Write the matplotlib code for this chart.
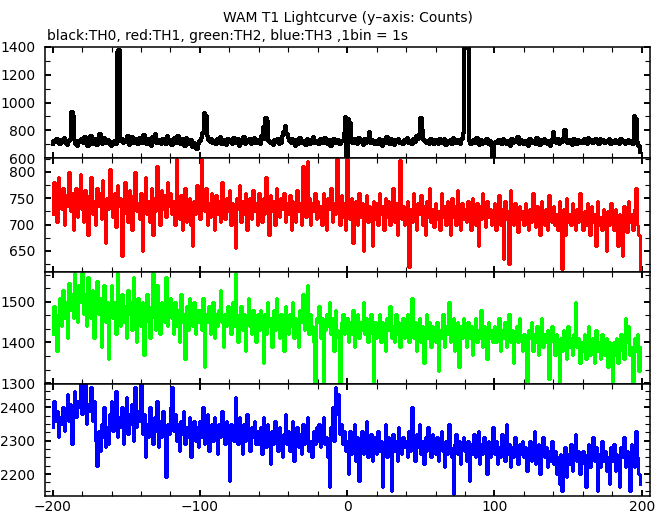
import numpy as np
import matplotlib

matplotlib.use("Agg")
import matplotlib.pyplot as plt
from matplotlib.ticker import MultipleLocator, AutoMinorLocator

# ---- data: counts per 1 s bin, t = -200 .. 199 ----
time_s = np.arange(-200, 200)

th0 = [
    700, 725, 712, 735, 705, 698, 730, 718, 742, 710, 695, 722, 740, 930, 905, 728, 700, 690, 720, 712,
    735, 705, 748, 718, 690, 725, 760, 702, 715, 738, 695, 728, 770, 710, 698, 745, 720, 705, 732, 700,
    690, 718, 725, 700, 1365, 1375, 720, 740, 705, 730, 712, 760, 695, 722, 748, 706, 735, 715, 700, 742,
    718, 705, 765, 728, 700, 735, 712, 690, 748, 722, 775, 705, 730, 715, 698, 740, 726, 702, 755, 712,
    730, 695, 718, 742, 705, 760, 720, 700, 735, 712, 690, 745, 718, 702, 728, 680, 710, 695, 665, 700,
    720, 745, 780, 925, 900, 760, 730, 712, 740, 705, 725, 698, 735, 715, 748, 702, 730, 720, 695, 740,
    712, 728, 700, 745, 718, 705, 735, 690, 722, 710, 748, 700, 725, 715, 738, 698, 720, 745, 705, 730,
    715, 700, 760, 820, 740, 890, 865, 725, 705, 712, 695, 730, 718, 740, 700, 710, 760, 790, 830, 775,
    745, 720, 705, 735, 712, 690, 728, 700, 742, 718, 705, 725, 695, 738, 712, 700, 730, 748, 705, 720,
    712, 698, 735, 720, 705, 745, 715, 700, 728, 690, 722, 740, 705, 712, 730, 698, 720, 720, 780, 895,
    605, 880, 855, 720, 705, 735, 712, 700, 745, 718, 728, 695, 740, 710, 722, 785, 705, 730, 715, 700,
    725, 700, 738, 712, 690, 730, 705, 748, 715, 700, 735, 720, 695, 728, 712, 740, 705, 718, 700, 730,
    712, 745, 705, 722, 700, 735, 718, 760, 740, 770, 885, 800, 730, 712, 705, 725, 698, 740, 715, 702,
    728, 712, 700, 735, 718, 705, 740, 695, 722, 710, 730, 700, 745, 715, 705, 728, 712, 700, 735, 780,
    1395, 1390, 1395, 725, 700, 718, 730, 705, 742, 712, 695, 728, 700, 720, 710, 735, 702, 725, 690, 600,
    705, 718, 705, 730, 712, 698, 740, 715, 700, 725, 710, 690, 735, 705, 722, 712, 748, 700, 728, 715,
    700, 725, 712, 690, 738, 705, 720, 715, 700, 742, 712, 695, 728, 705, 735, 718, 700, 722, 690, 730,
    790, 712, 705, 735, 700, 725, 718, 745, 800, 720, 705, 730, 712, 695, 740, 715, 700, 728, 710, 722,
    705, 735, 712, 700, 745, 718, 730, 705, 722, 740, 712, 700, 735, 715, 728, 705, 720, 712, 738, 700,
    725, 710, 730, 705, 718, 700, 735, 712, 722, 698, 715, 730, 705, 720, 700, 900, 880, 715, 690, 640,
]

th1 = [
    720, 780, 760, 705, 790, 745, 730, 770, 700, 755, 735, 800, 725, 760, 690, 745, 770, 715, 750, 795,
    730, 705, 765, 740, 680, 755, 790, 720, 745, 700, 770, 735, 760, 710, 785, 725, 665, 750, 730, 805,
    740, 715, 760, 695, 775, 735, 750, 640, 720, 780, 745, 705, 765, 730, 690, 755, 800, 725, 740, 710,
    760, 650, 735, 790, 720, 745, 705, 770, 680, 750, 725, 810, 740, 700, 765, 730, 755, 715, 780, 735,
    760, 720, 745, 700, 825, 735, 710, 755, 690, 740, 770, 705, 730, 750, 700, 660, 745, 720, 775, 735,
    710, 825, 745, 725, 770, 700, 740, 715, 760, 730, 690, 755, 720, 745, 705, 780, 735, 710, 750, 725,
    765, 700, 740, 720, 655, 750, 730, 775, 705, 745, 720, 760, 690, 735, 750, 710, 765, 725, 740, 700,
    760, 730, 705, 750, 720, 790, 740, 680, 755, 725, 745, 700, 770, 735, 715, 750, 730, 760, 705, 740,
    720, 755, 690, 745, 730, 705, 765, 725, 740, 700, 810, 735, 715, 820, 750, 700, 740, 725, 760, 710,
    745, 715, 735, 700, 760, 725, 690, 750, 730, 770, 705, 740, 720, 825, 745, 700, 755, 715, 740, 690,
    825, 735, 710, 750, 665, 730, 745, 700, 760, 715, 740, 650, 725, 755, 705, 735, 720, 660, 745, 710,
    740, 700, 760, 720, 735, 690, 750, 715, 745, 700, 730, 770, 705, 740, 680, 725, 822, 710, 735, 700,
    725, 745, 620, 730, 705, 760, 715, 690, 740, 720, 755, 700, 735, 680, 745, 715, 770, 705, 730, 695,
    740, 710, 725, 690, 760, 715, 735, 700, 745, 725, 680, 750, 715, 735, 700, 765, 720, 690, 740, 710,
    730, 705, 745, 715, 690, 750, 725, 700, 740, 660, 735, 710, 760, 720, 695, 745, 715, 730, 700, 725,
    740, 690, 720, 755, 700, 730, 635, 745, 710, 725, 625, 765, 715, 700, 740, 720, 685, 735, 710, 725,
    700, 740, 715, 690, 730, 705, 760, 720, 695, 735, 710, 680, 745, 715, 700, 730, 690, 755, 720, 705,
    735, 700, 720, 690, 745, 715, 615, 730, 680, 750, 705, 720, 700, 740, 715, 690, 730, 705, 760, 720,
    690, 725, 700, 740, 710, 680, 735, 705, 720, 660, 745, 700, 715, 690, 730, 710, 650, 725, 700, 740,
    715, 690, 730, 705, 660, 720, 700, 640, 735, 710, 685, 745, 705, 720, 690, 730, 770, 700, 680, 615,
]

th2 = [
    1420, 1490, 1450, 1380, 1470, 1510, 1440, 1530, 1460, 1500, 1410, 1545, 1480, 1520, 1460, 1570, 1490, 1450, 1540, 1500,
    1570, 1470, 1520, 1440, 1560, 1500, 1460, 1530, 1410, 1490, 1550, 1470, 1510, 1390, 1480, 1540, 1450, 1500, 1360, 1490,
    1540, 1460, 1500, 1420, 1570, 1480, 1440, 1520, 1450, 1490, 1410, 1530, 1470, 1500, 1430, 1560, 1460, 1400, 1510, 1470,
    1440, 1500, 1370, 1480, 1520, 1450, 1410, 1490, 1570, 1460, 1430, 1540, 1480, 1420, 1500, 1470, 1450, 1560, 1440, 1490,
    1510, 1460, 1420, 1500, 1440, 1480, 1400, 1520, 1450, 1470, 1360, 1490, 1430, 1510, 1460, 1440, 1500, 1420, 1480, 1450,
    1480, 1430, 1510, 1340, 1470, 1450, 1490, 1420, 1460, 1500, 1410, 1470, 1440, 1480, 1530, 1450, 1390, 1470, 1440, 1490,
    1460, 1420, 1500, 1440, 1570, 1470, 1400, 1450, 1490, 1430, 1470, 1380, 1460, 1510, 1440, 1420, 1480, 1450, 1400, 1470,
    1430, 1480, 1450, 1350, 1470, 1420, 1500, 1440, 1460, 1390, 1480, 1430, 1510, 1450, 1410, 1470, 1440, 1380, 1490, 1450,
    1420, 1470, 1440, 1500, 1410, 1460, 1430, 1390, 1480, 1450, 1520, 1430, 1460, 1540, 1420, 1470, 1440, 1400, 1300, 1460,
    1450, 1490, 1410, 1460, 1300, 1430, 1470, 1440, 1500, 1420, 1460, 1380, 1480, 1430, 1410, 1300, 1450, 1470, 1420, 1440,
    1460, 1400, 1450, 1420, 1480, 1390, 1440, 1470, 1410, 1450, 1430, 1500, 1420, 1460, 1400, 1440, 1470, 1420, 1300, 1450,
    1410, 1440, 1470, 1400, 1450, 1420, 1380, 1460, 1430, 1490, 1410, 1440, 1400, 1470, 1420, 1450, 1390, 1430, 1460, 1410,
    1440, 1470, 1400, 1430, 1510, 1410, 1450, 1380, 1420, 1460, 1400, 1440, 1350, 1430, 1470, 1410, 1450, 1390, 1440, 1420,
    1400, 1450, 1330, 1430, 1410, 1470, 1390, 1440, 1420, 1500, 1400, 1430, 1460, 1380, 1420, 1450, 1340, 1440, 1410, 1460,
    1430, 1390, 1450, 1410, 1440, 1370, 1420, 1460, 1400, 1430, 1410, 1480, 1390, 1440, 1420, 1360, 1450, 1410, 1430, 1400,
    1440, 1400, 1420, 1460, 1380, 1430, 1410, 1450, 1390, 1420, 1470, 1400, 1430, 1350, 1420, 1440, 1400, 1460, 1410, 1380,
    1420, 1390, 1300, 1430, 1410, 1450, 1380, 1420, 1400, 1440, 1370, 1410, 1460, 1390, 1420, 1400, 1430, 1310, 1410, 1440,
    1400, 1370, 1420, 1390, 1300, 1410, 1380, 1430, 1400, 1360, 1440, 1390, 1410, 1370, 1420, 1500, 1390, 1410, 1350, 1400,
    1380, 1420, 1360, 1400, 1440, 1370, 1390, 1410, 1350, 1430, 1380, 1400, 1360, 1420, 1390, 1370, 1410, 1340, 1400, 1380,
    1300, 1400, 1370, 1410, 1350, 1390, 1420, 1380, 1360, 1460, 1400, 1440, 1370, 1390, 1300, 1410, 1380, 1420, 1330, 1390,
]

th3 = [
    2340, 2420, 2360, 2390, 2310, 2370, 2350, 2400, 2330, 2380, 2440, 2360, 2410, 2290, 2390, 2450, 2370, 2420, 2400, 2470,
    2380, 2440, 2470, 2350, 2410, 2390, 2460, 2360, 2420, 2300, 2225, 2330, 2270, 2350, 2310, 2400, 2280, 2340, 2290, 2380,
    2420, 2330, 2390, 2450, 2310, 2370, 2340, 2400, 2290, 2360, 2430, 2320, 2380, 2350, 2410, 2300, 2460, 2340, 2390, 2360,
    2470, 2320, 2380, 2250, 2350, 2310, 2400, 2340, 2290, 2370, 2330, 2420, 2280, 2360, 2310, 2390, 2340, 2190, 2350, 2320,
    2400, 2460, 2330, 2380, 2300, 2350, 2270, 2360, 2320, 2390, 2290, 2340, 2310, 2370, 2250, 2330, 2360, 2300, 2340, 2280,
    2360, 2310, 2400, 2290, 2340, 2380, 2270, 2330, 2350, 2300, 2370, 2320, 2260, 2350, 2310, 2390, 2330, 2290, 2360, 2320,
    2180, 2350, 2310, 2300, 2430, 2340, 2290, 2370, 2320, 2260, 2350, 2300, 2380, 2330, 2270, 2340, 2310, 2360, 2290, 2330,
    2290, 2340, 2260, 2370, 2310, 2280, 2350, 2300, 2230, 2330, 2290, 2360, 2310, 2270, 2340, 2300, 2250, 2320, 2380, 2290,
    2330, 2270, 2310, 2360, 2240, 2300, 2340, 2280, 2320, 2260, 2350, 2290, 2310, 2370, 2270, 2300, 2250, 2330, 2290, 2340,
    2300, 2350, 2280, 2330, 2370, 2290, 2310, 2250, 2160, 2340, 2400, 2300, 2460, 2380, 2440, 2320, 2350, 2290, 2330, 2270,
    2300, 2200, 2330, 2260, 2290, 2350, 2240, 2310, 2180, 2280, 2330, 2260, 2300, 2360, 2250, 2290, 2320, 2240, 2270, 2310,
    2260, 2330, 2270, 2300, 2160, 2290, 2350, 2250, 2310, 2280, 2150, 2320, 2270, 2300, 2240, 2340, 2290, 2260, 2310, 2280,
    2300, 2250, 2330, 2270, 2400, 2290, 2240, 2320, 2280, 2350, 2260, 2300, 2230, 2310, 2270, 2340, 2290, 2250, 2320, 2280,
    2260, 2310, 2240, 2290, 2330, 2270, 2220, 2300, 2260, 2350, 2280, 2250, 2140, 2290, 2320, 2260, 2300, 2230, 2280, 2310,
    2270, 2240, 2300, 2180, 2290, 2260, 2320, 2250, 2280, 2330, 2230, 2290, 2260, 2310, 2270, 2200, 2300, 2250, 2280, 2340,
    2260, 2300, 2230, 2280, 2250, 2320, 2270, 2240, 2350, 2260, 2290, 2220, 2280, 2250, 2310, 2270, 2230, 2290, 2260, 2300,
    2250, 2280, 2210, 2270, 2300, 2240, 2260, 2330, 2230, 2270, 2290, 2200, 2260, 2310, 2250, 2280, 2220, 2270, 2240, 2300,
    2230, 2270, 2200, 2250, 2170, 2260, 2150, 2240, 2280, 2190, 2260, 2230, 2290, 2210, 2250, 2320, 2240, 2270, 2200, 2260,
    2270, 2230, 2160, 2260, 2290, 2220, 2250, 2310, 2240, 2280, 2150, 2260, 2220, 2300, 2240, 2270, 2210, 2250, 2170, 2280,
    2240, 2290, 2210, 2260, 2230, 2160, 2280, 2250, 2310, 2220, 2270, 2240, 2150, 2290, 2260, 2220, 2330, 2250, 2200, 2170,
]

series = [th0, th1, th2, th3]
colors = ["black", "#ff0000", "#00ff00", "#0000ff"]
widths = [1.45, 0.75, 0.75, 0.75]
ylims = [(600, 1400), (610, 826), (1298, 1573), (2134, 2470)]
ymajor = [200, 50, 100, 100]
yminor = [2, 2, 3, 4]

# panel boxes in pixels (top, bottom) from the top of the 669x515 image
W_PX, H_PX = 669, 515
LEFT_PX, RIGHT_PX = 45, 650
panel_px = [(47, 158), (158, 272), (272, 384), (384, 496)]

fig = plt.figure(figsize=(W_PX / 100, H_PX / 100), dpi=100, facecolor="white")

for i, (top, bot) in enumerate(panel_px):
    ax = fig.add_axes([LEFT_PX / W_PX, 1 - bot / H_PX,
                       (RIGHT_PX - LEFT_PX) / W_PX, (bot - top) / H_PX])
    ax.plot(time_s, series[i], color=colors[i], lw=widths[i],
            drawstyle="steps-mid", antialiased=False)
    ax.set_xlim(-205.2, 205.6)
    ax.set_ylim(*ylims[i])
    ax.xaxis.set_major_locator(MultipleLocator(100))
    ax.xaxis.set_minor_locator(MultipleLocator(20))
    ax.yaxis.set_major_locator(MultipleLocator(ymajor[i]))
    ax.yaxis.set_minor_locator(AutoMinorLocator(yminor[i]))
    ax.tick_params(which="both", direction="in", top=True, right=True,
                   labelsize=10, colors="black")
    ax.tick_params(which="major", length=4.5, width=1.4, pad=7)
    ax.tick_params(which="minor", length=3.5, width=0.8)
    ax.tick_params(axis="x", pad=3)
    for sp in ax.spines.values():
        sp.set_linewidth(1.1)
    if i < 3:
        ax.tick_params(axis="x", labelbottom=False)

fig.text((LEFT_PX + RIGHT_PX) / 2 / W_PX, 1 - 18 / H_PX,
         "WAM T1 Lightcurve (y\u2013axis: Counts)",
         ha="center", va="center", fontsize=10)
fig.text(47 / W_PX, 1 - 36 / H_PX,
         "black:TH0, red:TH1, green:TH2, blue:TH3 ,1bin = 1s",
         ha="left", va="center", fontsize=10)

fig.savefig("out.png", dpi=100, facecolor="white")
